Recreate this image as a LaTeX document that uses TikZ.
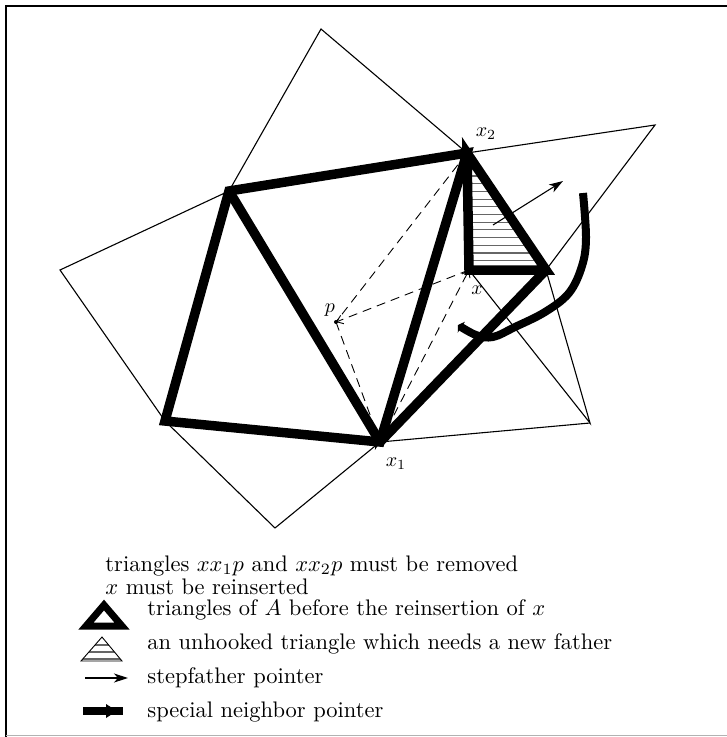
\documentclass[tikz,border=0pt]{standalone}
\usetikzlibrary{arrows.meta}
\begin{document}
\begin{tikzpicture}[x=1pt,y=-1pt,
  thinl/.style={line width=1.1pt},
  thickl/.style={line width=9.5pt, line join=miter, miter limit=4},
  dsh/.style={line width=0.9pt, dash pattern=on 9pt off 6pt},
  hatchl/.style={line width=1.1pt, black!60},
  lbl/.style={inner sep=0pt, scale=2.0},
  legtext/.style={anchor=base west, inner sep=0pt, scale=2.25},
  sfarrow/.style={line width=1.1pt, -{Stealth[length=14pt, width=9pt, inset=4pt]}},
  openbarb/.style={-{Straight Barb[length=6pt, width=9pt]}}
]
\useasboundingbox (0,0) rectangle (727,737);
% frame
\coordinate (F1) at (6,737); \coordinate (F2) at (6,6); \coordinate (F3) at (727,6);
\coordinate (F4) at (6,735.5); \coordinate (F5) at (727,735.5);
\draw[line width=1.2pt] (F1) -- (F2) -- (F3);
\draw[line width=1pt, black!30] (F4) -- (F5);

% vertices
\coordinate (T) at (321,29);
\coordinate (L) at (60,270);
\coordinate (B) at (275,528);
\coordinate (R1) at (590,423);
\coordinate (R2) at (655,125);
\coordinate (A) at (229,191);
\coordinate (Q) at (165,421);
\coordinate (X1) at (380,442);
\coordinate (X2) at (467,153);
\coordinate (X) at (469,270);
\coordinate (Rr) at (546,270);
\coordinate (P) at (336,322);

% hatching
\begin{scope}
  \clip (X2) -- (X) -- (Rr) -- cycle;
  \foreach \k in {0,...,14}
    \draw[hatchl] (455,{160.6+7.7*\k}) -- (565,{160.6+7.7*\k});
\end{scope}

% thin lines
\draw[thinl, line join=miter] (A) -- (T) -- (X2) -- (R2) -- (Rr) -- (R1) -- (X);
\draw[thinl] (A) -- (L) -- (Q) -- (B);
\draw[thinl, -{Stealth[length=9pt, width=6pt]}] (B) -- (X1);
\draw[thinl] (X1) -- (R1);

% dashed lines
\draw[dsh] (X2) -- (P);
\draw[dsh] (P) -- (X1);
\draw[dsh, openbarb] (X) -- (P);
\draw[dsh, openbarb] (X1) -- (X);
\fill (P) circle (2pt);

% thick lines
\draw[thickl] (A) -- (X2) -- (X1) -- (Q) -- cycle;
\draw[thickl] (A) -- (X1);
\draw[thickl] (X1) -- (Rr);
\draw[thickl] (X2) -- (X) -- (Rr) -- cycle;

% stepfather pointer
\coordinate (S1) at (493,225); \coordinate (S2) at (563,181);
\draw[sfarrow] (S1) -- (S2);

% special neighbor pointer
\draw[line width=8pt, -{Triangle[length=4pt, width=13pt]}]
  plot[smooth, tension=0.6] coordinates {(583,193) (586,238) (582,266) (569,293) (545,312) (515,327) (493,337) (476,335) (458,325)};

% labels
\node[lbl] (lx2) at (486,134) {$x_2$};
\node[lbl] (lx) at (477,290) {$x$};
\node[lbl] (lp) at (330,310) {$p$};
\node[lbl] (lx1) at (396,464) {$x_1$};

% legend
\node[legtext] (t1) at (105,571) {triangles $xx_1p$ and $xx_2p$ must be removed};
\node[legtext] (t2) at (105,594) {$x$ must be reinserted};
\node[legtext] (t3) at (147,615) {triangles of $A$ before the reinsertion of $x$};
\node[legtext] (t4) at (147,649) {an unhooked triangle which needs a new father};
\node[legtext] (t5) at (147,683) {stepfather pointer};
\node[legtext] (t6) at (147,717) {special neighbor pointer};

% legend icons
\coordinate (G1) at (104,605); \coordinate (G2) at (86,626); \coordinate (G3) at (122,626);
\draw[line width=7pt, line join=miter, miter limit=4] (G1) -- (G3) -- (G2) -- cycle;

\coordinate (H1) at (102,637); \coordinate (H2) at (81,661); \coordinate (H3) at (122,661);
\begin{scope}
  \clip (H1) -- (H2) -- (H3) -- cycle;
  \foreach \yy in {645,652,659}
    \draw[hatchl] (78,\yy) -- (125,\yy);
\end{scope}
\draw[line width=0.9pt] (H1) -- (H2) -- (H3) -- cycle;

\coordinate (K1) at (85,678); \coordinate (K2) at (128,678);
\draw[sfarrow] (K1) -- (K2);

\coordinate (M1) at (83,711); \coordinate (M2) at (123,711);
\draw[line width=8pt] (M1) -- (M2);
\coordinate (N1) at (106,704); \coordinate (N2) at (117,711); \coordinate (N3) at (106,718);
\fill (N1) -- (N2) -- (N3) -- cycle;
\end{tikzpicture}
\end{document}
